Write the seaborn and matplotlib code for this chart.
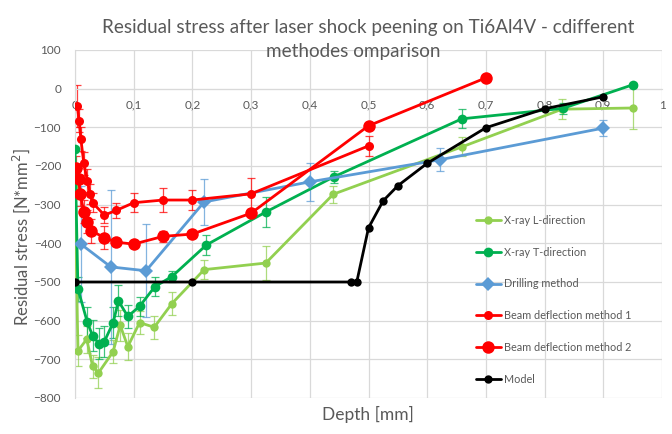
import matplotlib
matplotlib.use("Agg")
import matplotlib.pyplot as plt
from matplotlib.ticker import FixedLocator, FuncFormatter
import seaborn as sns

# ---- DATA ----
x_L = [0, 0.005, 0.02, 0.03, 0.04, 0.065, 0.077, 0.09, 0.11, 0.135, 0.165, 0.22, 0.325, 0.44, 0.66, 0.83, 0.95]
y_L = [-255, -678, -648, -718, -735, -680, -612, -667, -605, -617, -556, -468, -451, -273, -150, -53, -50]
e_L = [0, 40, 35, 30, 40, 30, 40, 35, 30, 30, 30, 25, 45, 22, 25, 25, 55]

x_T = [0, 0.005, 0.021, 0.03, 0.041, 0.05, 0.065, 0.074, 0.09, 0.11, 0.136, 0.165, 0.224, 0.325, 0.441, 0.659, 0.831, 0.95]
y_T = [-155, -518, -604, -639, -660, -654, -605, -549, -589, -563, -512, -486, -404, -319, -228, -78, -51, 10]
e_T = [0, 30, 40, 40, 40, 40, 40, 40, 30, 25, 25, 15, 25, 40, 15, 25, 15, 5]

x_D = [0.01, 0.061, 0.121, 0.22, 0.40, 0.621, 0.90]
y_D = [-402, -461, -471, -293, -241, -184, -102]
e_D = [150, 200, 120, 60, 50, 30, 20]

x_B1 = [0.004, 0.007, 0.010, 0.015, 0.021, 0.026, 0.030, 0.050, 0.070, 0.100, 0.150, 0.200, 0.300, 0.500]
y_B1 = [-45, -83, -130, -193, -238, -272, -295, -327, -315, -295, -288, -288, -272, -148]
e_B1 = [55, 30, 30, 30, 30, 25, 25, 20, 20, 25, 30, 25, 40, 26]

x_B2 = [0.002, 0.006, 0.009, 0.015, 0.02, 0.028, 0.05, 0.07, 0.1, 0.15, 0.2, 0.3, 0.5, 0.7]
y_B2 = [-205, -234, -273, -318, -344, -368, -385, -397, -402, -382, -376, -322, -96, 28]
e_B2 = [30, 30, 30, 30, 30, 30, 30, 0, 0, 15, 0, 0, 0, 0]

x_M = [0, 0.2, 0.47, 0.48, 0.5, 0.525, 0.55, 0.6, 0.7, 0.8, 0.9]
y_M = [-500, -500, -500, -500, -360, -290, -251, -193, -101, -52, -21]

x_ticks = [0, 0.1, 0.2, 0.3, 0.4, 0.5, 0.6, 0.7, 0.8, 0.9, 1.0]
y_ticks = list(range(-800, 101, 100))

# ---- STYLE ----
sns.set_style("white")
plt.rcParams["font.family"] = ["Lato", "DejaVu Sans"]
txt = "#595959"
grid = "#D9D9D9"

fig = plt.figure(figsize=(6.72, 4.34), dpi=100)
ax = fig.add_axes([75 / 672, 1 - 398 / 434, 587 / 672, 348 / 434])

series = [
    ("X-ray L-direction", x_L, y_L, e_L, "#92D050", "o", 6),
    ("X-ray T-direction", x_T, y_T, e_T, "#00B050", "o", 7),
    ("Drilling method", x_D, y_D, e_D, "#5B9BD5", "D", 7),
    ("Beam deflection method 1", x_B1, y_B1, e_B1, "#FF0000", "o", 6.5),
    ("Beam deflection method 2", x_B2, y_B2, e_B2, "#FF0000", "o", 9),
    ("Model", x_M, y_M, None, "#000000", "o", 6),
]

for name, xs, ys, es, col, mk, ms in series:
    if es is not None:
        ax.errorbar(xs, ys, yerr=es, fmt="none", ecolor=col, elinewidth=0.9,
                    capsize=3, capthick=0.9, alpha=0.75, zorder=2)
    sns.lineplot(x=xs, y=ys, ax=ax, color=col, marker=mk, markersize=ms,
                 markeredgewidth=0, linewidth=2, label=name, sort=False,
                 zorder=3)

ax.set_xlim(0, 1)
ax.set_ylim(-800, 100)
ax.xaxis.set_major_locator(FixedLocator(x_ticks))
ax.yaxis.set_major_locator(FixedLocator(y_ticks))
ax.xaxis.set_major_formatter(FuncFormatter(lambda v, p: ("%g" % v).replace(".", ",")))
ax.grid(True, color=grid, linewidth=0.9)
ax.set_axisbelow(True)

for s in ["top", "right"]:
    ax.spines[s].set_visible(False)
ax.spines["left"].set_color(grid)
ax.spines["bottom"].set_position(("data", 0))
ax.spines["bottom"].set_color(grid)
ax.tick_params(axis="both", length=0, labelsize=8.5, labelcolor=txt)
ax.tick_params(axis="x", pad=8)
ax.tick_params(axis="y", pad=10)
ax.set_xlabel("")
ax.set_ylabel("")

fig.text(368 / 672, 1 - 28 / 434, "Residual stress after laser shock peening on Ti6Al4V - cdifferent",
         ha="center", va="center", fontsize=13.6, color=txt)
fig.text(353 / 672, 1 - 51 / 434, "methodes omparison",
         ha="center", va="center", fontsize=13.6, color=txt)
fig.text(368 / 672, 1 - 414 / 434, "Depth [mm]", ha="center", va="center",
         fontsize=12.5, color=txt)
fig.text(21 / 672, 1 - 237 / 434, "Residual stress [N*mm$^2$]", ha="center", va="center",
         rotation=90, fontsize=12, color=txt)

leg = ax.legend(loc="upper left", bbox_to_anchor=(466 / 672, 1 - 205 / 434),
                bbox_transform=fig.transFigure, frameon=False, fontsize=7.8,
                labelspacing=1.92, handlelength=2.3, handletextpad=0.3)
for t in leg.get_texts():
    t.set_color(txt)

fig.savefig("out.png", dpi=100)
